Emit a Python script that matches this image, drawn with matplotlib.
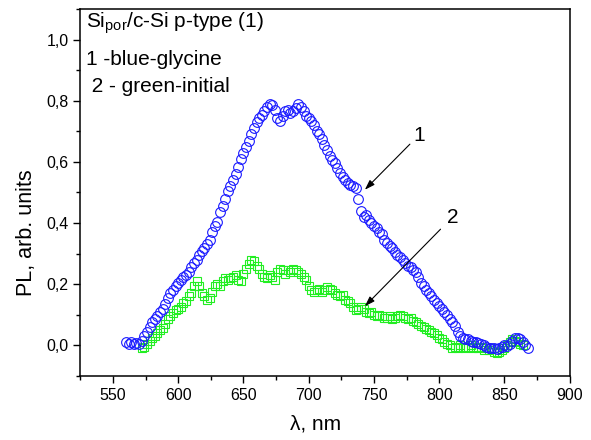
import numpy as np
import matplotlib
matplotlib.use("Agg")
import matplotlib.pyplot as plt
from matplotlib.ticker import MultipleLocator, FuncFormatter

plt.rcParams['font.family'] = ['Liberation Sans', 'DejaVu Sans']
plt.rcParams['mathtext.default'] = 'regular'

# 1 - blue-glycine (nm, PL)
wl_blue = np.arange(560, 870, 2)
pl_blue = [0.010, 0.005, 0.012, 0.003, 0.008, 0.004, 0.015, 0.030, 0.045, 0.060,
           0.075, 0.085, 0.095, 0.110, 0.120, 0.135, 0.155, 0.170, 0.180, 0.195,
           0.205, 0.215, 0.225, 0.230, 0.240, 0.255, 0.270, 0.280, 0.295, 0.310,
           0.320, 0.330, 0.345, 0.370, 0.390, 0.405, 0.435, 0.455, 0.480, 0.505,
           0.520, 0.540, 0.560, 0.585, 0.610, 0.630, 0.650, 0.670, 0.690, 0.710,
           0.730, 0.745, 0.755, 0.765, 0.780, 0.790, 0.785, 0.770, 0.745, 0.735,
           0.750, 0.765, 0.770, 0.760, 0.765, 0.775, 0.790, 0.780, 0.765, 0.750,
           0.745, 0.735, 0.720, 0.700, 0.690, 0.675, 0.655, 0.640, 0.620, 0.605,
           0.595, 0.580, 0.565, 0.550, 0.540, 0.530, 0.525, 0.520, 0.515, 0.480,
           0.440, 0.420, 0.425, 0.410, 0.400, 0.390, 0.385, 0.370, 0.365, 0.345,
           0.335, 0.325, 0.320, 0.305, 0.295, 0.290, 0.280, 0.270, 0.260, 0.255,
           0.245, 0.240, 0.225, 0.205, 0.195, 0.180, 0.170, 0.160, 0.150, 0.140,
           0.130, 0.120, 0.110, 0.100, 0.085, 0.075, 0.065, 0.045, 0.030, 0.025,
           0.020, 0.020, 0.015, 0.012, 0.010, 0.008, 0.005, 0.000, -0.005, -0.008,
           -0.010, -0.010, -0.012, -0.008, -0.005, 0.000, -0.003, 0.005, 0.015, 0.025,
           0.025, 0.020, 0.010, 0.000, -0.010]

# 2 - green-initial (nm, PL)
wl_green = np.arange(572, 866, 2)
pl_green = [-0.010, -0.005, 0.005, 0.015, 0.025, 0.030, 0.040, 0.050, 0.058, 0.070,
            0.085, 0.095, 0.105, 0.115, 0.120, 0.125, 0.140, 0.145, 0.160, 0.170,
            0.195, 0.210, 0.195, 0.170, 0.160, 0.150, 0.155, 0.175, 0.195, 0.200,
            0.195, 0.210, 0.220, 0.215, 0.220, 0.225, 0.230, 0.215, 0.210, 0.235,
            0.250, 0.265, 0.280, 0.275, 0.260, 0.250, 0.235, 0.225, 0.220, 0.230,
            0.225, 0.215, 0.240, 0.250, 0.245, 0.235, 0.245, 0.240, 0.250, 0.245,
            0.240, 0.235, 0.225, 0.215, 0.195, 0.180, 0.175, 0.180, 0.185, 0.175,
            0.180, 0.190, 0.185, 0.180, 0.170, 0.165, 0.160, 0.165, 0.150, 0.145,
            0.140, 0.125, 0.115, 0.120, 0.125, 0.120, 0.110, 0.105, 0.110, 0.100,
            0.095, 0.100, 0.095, 0.090, 0.090, 0.095, 0.085, 0.090, 0.095, 0.100,
            0.095, 0.090, 0.085, 0.090, 0.080, 0.075, 0.070, 0.065, 0.060, 0.055,
            0.050, 0.045, 0.040, 0.035, 0.025, 0.020, 0.010, 0.005, 0.000, -0.010,
            -0.005, -0.010, 0.000, -0.005, -0.010, -0.005, 0.000, -0.010, -0.005, -0.010,
            -0.005, -0.015, -0.010, -0.015, -0.010, -0.020, -0.025, -0.020, -0.015, -0.010,
            0.000, 0.010, 0.020, 0.015, 0.010, 0.005, 0.000]

fig = plt.figure(figsize=(5.91, 4.40), dpi=100)
ax = fig.add_axes([0.136, 0.1455, 0.828, 0.834])

ax.plot(wl_green, pl_green, linestyle='none', marker='s', markersize=5.8,
        markerfacecolor='none', markeredgecolor='#22ee22', markeredgewidth=0.8)
ax.plot(wl_blue, pl_blue, linestyle='none', marker='o', markersize=7,
        markerfacecolor='none', markeredgecolor='#1a1aff', markeredgewidth=0.8)

ax.set_xlim(525, 900)
ax.set_ylim(-0.1, 1.1)
ax.xaxis.set_major_locator(MultipleLocator(50))
ax.xaxis.set_minor_locator(MultipleLocator(25))
ax.yaxis.set_major_locator(MultipleLocator(0.2))
ax.yaxis.set_minor_locator(MultipleLocator(0.1))
ax.yaxis.set_major_formatter(FuncFormatter(lambda v, p: ('%.1f' % v).replace('.', ',')))
ax.tick_params(which='both', direction='out', top=False, right=False, labelsize=11.5)
ax.tick_params(which='major', length=5, width=1)
ax.tick_params(which='minor', length=3, width=1)
for s in ax.spines.values():
    s.set_linewidth(1.1)

ax.set_xlabel('λ, nm', fontsize=15)
ax.set_ylabel('PL, arb. units', fontsize=15.5)
ax.xaxis.set_label_coords(0.481, -0.105)
ax.yaxis.set_label_coords(-0.088, 0.39)

ax.text(0.011, 0.948, 'Si$_{por}$/c-Si p-type (1)', transform=ax.transAxes, fontsize=15, va='baseline')
ax.text(0.011, 0.847, '1 -blue-glycine', transform=ax.transAxes, fontsize=15, va='baseline')
ax.text(0.011, 0.774, ' 2 - green-initial', transform=ax.transAxes, fontsize=15, va='baseline')

arrow = dict(arrowstyle='-|>,head_length=0.6,head_width=0.2', color='black', lw=0.8,
             shrinkA=0, shrinkB=0)
ax.annotate('', xy=(743, 0.509), xytext=(777.5, 0.658), arrowprops=arrow)
ax.annotate('', xy=(743, 0.128), xytext=(801, 0.38), arrowprops=arrow)
ax.text(785, 0.688, '1', fontsize=15, ha='center', va='center')
ax.text(810, 0.418, '2', fontsize=15, ha='center', va='center')

fig.savefig('out.png', dpi=100)
